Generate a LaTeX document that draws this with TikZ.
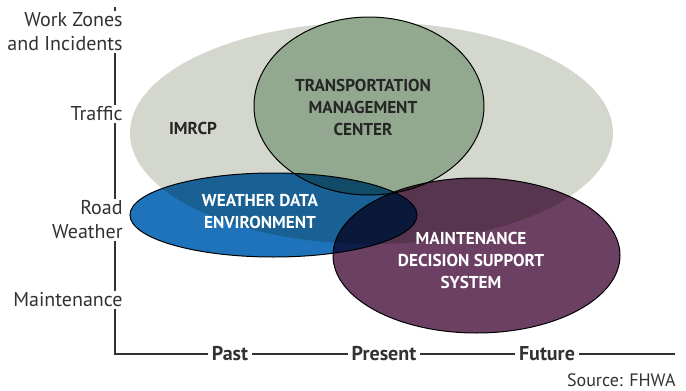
\documentclass[tikz,border=0pt]{standalone}
\usepackage{fontspec}
\setmainfont{PT Sans}
\usetikzlibrary{shapes.geometric}

\definecolor{imrcpgray}{RGB}{211,215,205}
\definecolor{tmcgreen}{RGB}{146,168,143}
\definecolor{wdeblue}{RGB}{31,115,186}
\definecolor{mdsspurple}{RGB}{107,64,99}
\definecolor{axisgray}{RGB}{50,50,50}

\begin{document}
\begin{tikzpicture}[x=0.5pt, y=-0.5pt,
    blob/.style={ellipse, inner sep=0pt, draw=black, line width=0.5pt},
    axislabel/.style={anchor=east, align=right, fill=white, inner sep=1pt, text=axisgray, font=\fontsize{10}{12}\selectfont},
    timelabel/.style={fill=white, inner sep=2pt, text=axisgray, font=\fontsize{10}{12}\selectfont\bfseries},
    darktext/.style={align=center, text=black!85, font=\fontsize{8.6}{11}\selectfont\bfseries},
    lighttext/.style={align=center, text=white, font=\fontsize{8.6}{11}\selectfont\bfseries}]
    \useasboundingbox (0,0) rectangle (686,391);

    % the four areas
    \node[ellipse, inner sep=0pt, fill=imrcpgray, minimum width=241.5pt, minimum height=111pt] at (371.5,133) (imrcp) {};
    \node[blob, fill=tmcgreen, minimum width=115pt, minimum height=89pt] at (369,106) (tmc) {};
    \begin{scope}[blend mode=multiply]
    \node[blob, fill=wdeblue, minimum width=143.5pt, minimum height=42pt] at (273.5,215) (wde) {};
    \node[blob, fill=mdsspurple, minimum width=143.5pt, minimum height=77.5pt] at (476.5,255.5) (mdss) {};
    \end{scope}

    \node[darktext] at (193,128) (imrcptext) {IMRCP};
    \node[darktext] at (363,107) (tmctext) {TRANSPORTATION\\MANAGEMENT\\CENTER};
    \node[lighttext] at (260,212) (wdetext) {WEATHER DATA\\ENVIRONMENT};
    \node[lighttext] at (471,260) (mdsstext) {MAINTENANCE\\DECISION SUPPORT\\SYSTEM};

    % axes
    \coordinate (ytop) at (115,7);
    \coordinate (orig) at (115,354);
    \coordinate (xend) at (675,354);
    \draw[axisgray, line width=1pt] (ytop) -- (orig) -- (xend);

    \node[axislabel] at (125,32) (work) {Work Zones\\and Incidents};
    \node[axislabel] at (125,114) (traffic) {Traffic};
    \node[axislabel] at (125,220) (road) {Road\\Weather};
    \node[axislabel] at (125,300) (maint) {Maintenance};

    \node[timelabel] at (230,354) (past) {Past};
    \node[timelabel] at (384,354) (present) {Present};
    \node[timelabel] at (547,354) (future) {Future};

    \node[anchor=east, inner sep=0pt, text=axisgray, font=\fontsize{9}{12}\selectfont] at (676,380) (source) {Source: FHWA};
\end{tikzpicture}
\end{document}
